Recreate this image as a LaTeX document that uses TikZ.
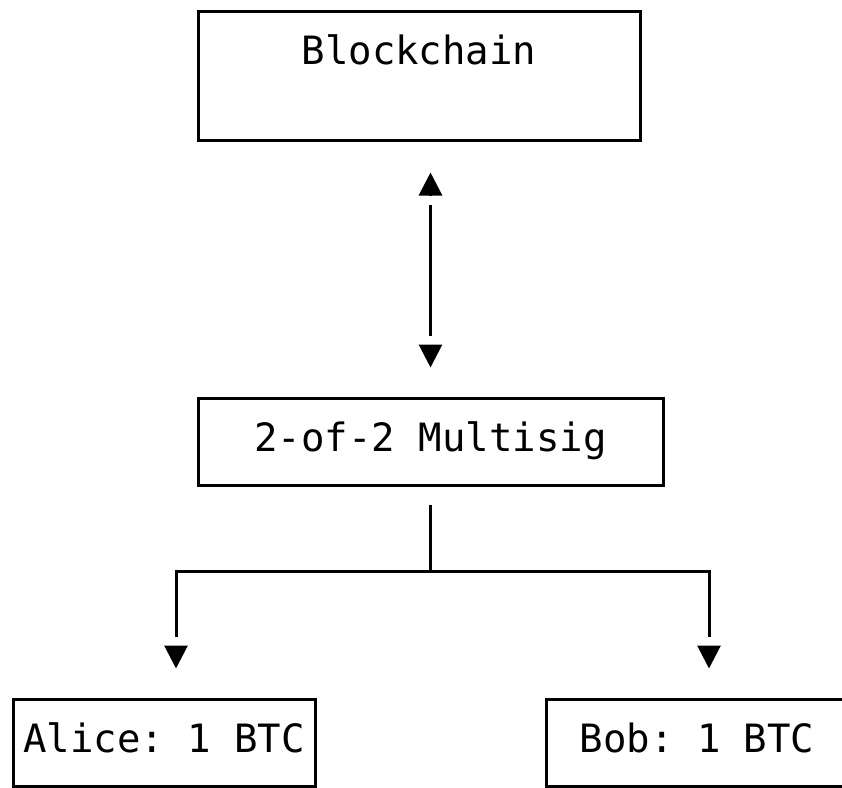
\documentclass[tikz,border=0pt]{standalone}
\usepackage{fontspec}
\setmonofont{DejaVu Sans Mono}
\usetikzlibrary{arrows.meta}

\begin{document}
\begin{tikzpicture}[x=1pt, y=-1pt,
    >={Rectangle[length=9pt,width=8pt,color=white,line width=0pt]Triangle[length=23pt,width=23pt]},
    every node/.style={font=\ttfamily\fontsize{39}{42}\selectfont},
    asciibox/.style={draw, line width=3pt, inner xsep=0pt, inner ysep=22.5pt,
      text height=31pt, text depth=11pt},
    link/.style={line width=3pt}]
    \clip (0,0) rectangle (842,787);
    \node[asciibox,minimum width=442pt,text depth=53pt] (chain) at (419,75.5) {Blockchain};
    \node[asciibox,minimum width=465pt] (multisig) at (430.5,441.5) {2-of-2 Multisig};
    \node[asciibox,minimum width=302pt] (alice) at (164,742.5) {Alice: 1 BTC};
    \node[asciibox,minimum width=302pt] (bob) at (697,742.5) {Bob: 1 BTC};
    \coordinate (fork) at (430.5,571);
    \draw[link,<->,shorten <=31pt,shorten >=29pt] (chain.south -| multisig.north) -- (multisig.north);
    \draw[link] ([yshift=-18pt]multisig.south) -- (fork);
    \draw[link,->,shorten >=29pt] (fork) -| ([xshift=12pt]alice.north);
    \draw[link,->,shorten >=29pt] (fork) -| ([xshift=12pt]bob.north);
\end{tikzpicture}
\end{document}
